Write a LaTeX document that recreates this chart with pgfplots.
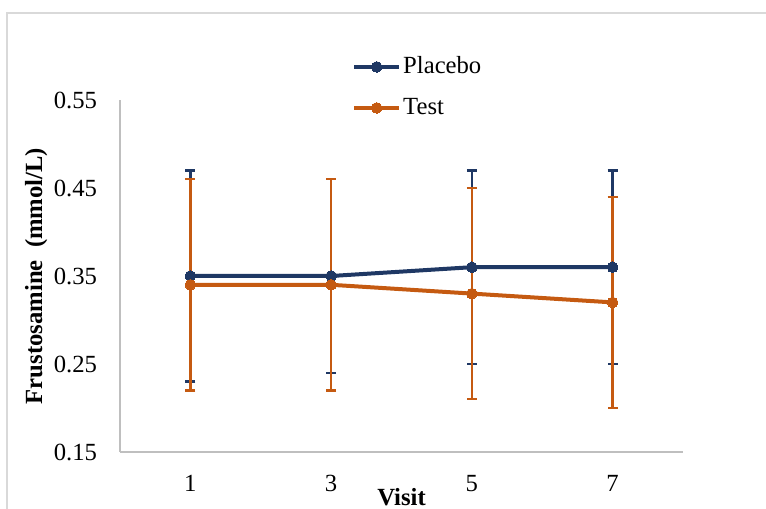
\documentclass[border=0pt]{standalone}
\usepackage{pgfplots}
\pgfplotsset{compat=1.18}
\usepackage{fontspec}
\setmainfont{Liberation Serif}
\definecolor{pbBlue}{RGB}{31,56,100}
\definecolor{tsOrange}{RGB}{197,90,17}
\definecolor{axisgray}{RGB}{191,191,191}
\definecolor{framegray}{RGB}{217,217,217}
\begin{document}
\fontsize{18.5}{22}\selectfont
\begin{tikzpicture}
\useasboundingbox (0,0) rectangle (574.5pt,381.75pt);
\draw[framegray, line width=1.2pt] ({7*0.75pt},0) -- ({7*0.75pt},{(509-13)*0.75pt}) -- (574.5pt,{(509-13)*0.75pt});
\begin{axis}[
  at={(90pt,42.75pt)}, anchor=south west,
  scale only axis, width=422.25pt, height=264pt,
  xmin=-0.5, xmax=3.5, ymin=0.15, ymax=0.55,
  xtick={0,1,2,3}, xticklabels={1,3,5,7},
  ytick={0.15,0.25,0.35,0.45,0.55},
  /pgf/number format/assume math mode=true,
  tick label style={font=\fontsize{18.5}{22}\selectfont, inner sep=0pt},
  yticklabel style={/pgf/number format/fixed, /pgf/number format/fixed zerofill, /pgf/number format/precision=2, xshift=-17pt},
  xticklabel style={yshift=-17pt},
  axis x line*=bottom, axis y line*=left,
  axis line style={draw=axisgray, line width=0.9pt, -},
  major tick length=0pt,
  xlabel={\bfseries Visit},
  ylabel={\bfseries Frustosamine\hspace{0.5em}(mmol/L)},
  label style={font=\fontsize{18.5}{22}\selectfont},
  xlabel style={at={(axis description cs:0.5,-0.1278)}, anchor=center},
  ylabel style={at={(axis description cs:-0.149,0.5)}, anchor=center},
  legend style={at={(axis description cs:0.412,1.13)}, anchor=north west, draw=none, fill=none, inner sep=0pt, row sep=12.5pt, font=\fontsize{18.5}{22}\selectfont, nodes={inner sep=1.5pt}},
  legend cell align=left,
  legend image code/.code={\draw[mark repeat=2,mark phase=2] plot coordinates {(0pt,0pt) (16.9pt,0pt) (33.75pt,0pt)};},
  clip=false,
]
% error bars
\addplot[forget plot, draw=none, mark=none,
  error bars/.cd, y dir=both, y explicit,
  error bar style={draw=pbBlue, line width=1.8pt},
  error mark options={rotate=90, mark size=3.75pt, line width=1.8pt, draw=pbBlue}]
  coordinates {(0,0.35) +- (0,0.12) (1,0.35) +- (0,0.11) (2,0.36) +- (0,0.11) (3,0.36) +- (0,0.11)};
\addplot[forget plot, draw=none, mark=none,
  error bars/.cd, y dir=both, y explicit,
  error bar style={draw=tsOrange, line width=1.8pt},
  error mark options={rotate=90, mark size=3.75pt, line width=1.8pt, draw=tsOrange}]
  coordinates {(0,0.34) +- (0,0.12) (1,0.34) +- (0,0.12) (2,0.33) +- (0,0.12) (3,0.32) +- (0,0.12)};
% lines
\addplot[pbBlue, line width=3pt, mark=*, mark size=4pt, mark options={solid, fill=pbBlue, draw=pbBlue, line width=0pt}]
  coordinates {(0,0.35) (1,0.35) (2,0.36) (3,0.36)};
\addlegendentry{Placebo}
\addplot[tsOrange, line width=3pt, mark=*, mark size=4pt, mark options={solid, fill=tsOrange, draw=tsOrange, line width=0pt}]
  coordinates {(0,0.34) (1,0.34) (2,0.33) (3,0.32)};
\addlegendentry{Test}
\end{axis}
\end{tikzpicture}
\end{document}
